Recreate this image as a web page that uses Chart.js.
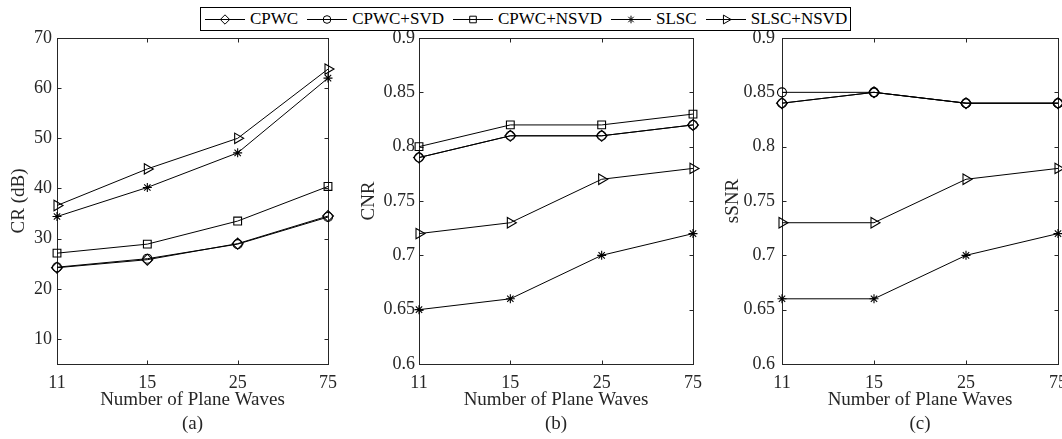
<!DOCTYPE html>
<html>
<head>
<meta charset="utf-8">
<script src="https://cdn.jsdelivr.net/npm/chart.js@4.4.1/dist/chart.umd.min.js"></script>
<style>
html, body { margin: 0; padding: 0; background: #fff; overflow: hidden; }
#fig { position: relative; width: 1062px; height: 439px; overflow: hidden; background: #fff; }
.panel { position: absolute; top: 0; }
#legend {
    position: absolute; left: 200px; top: 7px; width: 645px; height: 22px;
    border: 1px solid #000; background: #fff; z-index: 2;
    display: flex; align-items: center; padding-left: 4px;
    font-family: 'Liberation Serif', 'Times New Roman', serif; font-size: 17px; color: #000;
}
.item { display: flex; align-items: center; margin-right: 9px; white-space: nowrap; }
.item canvas { margin-right: 5px; }
</style>
</head>
<body>
<div id="fig">
    <div id="legend"></div>
    <canvas id="chartA" class="panel"></canvas>
    <canvas id="chartB" class="panel"></canvas>
    <canvas id="chartC" class="panel"></canvas>
</div>
<script>
// dados
var planeWaves = ['11', '15', '25', '75'];
var seriesNames = ['CPWC', 'CPWC+SVD', 'CPWC+NSVD', 'SLSC', 'SLSC+NSVD'];

// (a) CR (dB)
var crCPWC     = [24.2, 25.8, 29.0, 34.5];
var crSVD      = [24.3, 26.0, 28.9, 34.3];
var crNSVD     = [27.1, 28.9, 33.5, 40.4];
var crSLSC     = [34.4, 40.2, 47.1, 62.0];
var crSLSCNSVD = [36.6, 43.9, 50.0, 63.8];

// (b) CNR
var cnrCPWC     = [0.79, 0.81, 0.81, 0.82];
var cnrSVD      = [0.79, 0.81, 0.81, 0.82];
var cnrNSVD     = [0.80, 0.82, 0.82, 0.83];
var cnrSLSC     = [0.65, 0.66, 0.70, 0.72];
var cnrSLSCNSVD = [0.72, 0.73, 0.77, 0.78];

// (c) sSNR (CPWC+NSVD aparece com circulo, por cima do CPWC)
var snrCPWC     = [0.84, 0.85, 0.84, 0.84];
var snrSVD      = [0.85, 0.85, 0.84, 0.84];
var snrNSVD     = [0.84, 0.85, 0.84, 0.84];
var snrSLSC     = [0.66, 0.66, 0.70, 0.72];
var snrSLSCNSVD = [0.73, 0.73, 0.77, 0.78];

var crTicks = [10, 20, 30, 40, 50, 60, 70];
var ratioTicks = [0.6, 0.65, 0.7, 0.75, 0.8, 0.85, 0.9];
var ratioTickLabels = ['0.6', '0.65', '0.7', '0.75', '0.8', '0.85', '0.9'];

var markers = ['rectRot', 'circle', 'rect', 'star', 'triangle'];
var markersC = ['rectRot', 'circle', 'circle', 'star', 'triangle'];
var markerSize = [5.5, 4.5, 5.5, 4.5, 6];
var markerRot = [0, 0, 0, 0, 90];

var serif = "'Liberation Serif', 'Times New Roman', serif";
var axisColor = '#262626';

// legenda
function drawMarker(ctx, style, x, y, r) {
    ctx.beginPath();
    if (style == 'circle') {
        ctx.arc(x, y, r, 0, Math.PI * 2);
    } else if (style == 'rectRot') {
        ctx.moveTo(x, y - r); ctx.lineTo(x + r, y); ctx.lineTo(x, y + r); ctx.lineTo(x - r, y); ctx.closePath();
    } else if (style == 'rect') {
        var s = r * Math.SQRT1_2;
        ctx.rect(x - s, y - s, 2 * s, 2 * s);
    } else if (style == 'star') {
        ctx.moveTo(x - r, y); ctx.lineTo(x + r, y);
        ctx.moveTo(x, y - r); ctx.lineTo(x, y + r);
        var d = r * Math.SQRT1_2;
        ctx.moveTo(x - d, y - d); ctx.lineTo(x + d, y + d);
        ctx.moveTo(x - d, y + d); ctx.lineTo(x + d, y - d);
    } else if (style == 'triangle') {
        ctx.moveTo(x + r, y);
        ctx.lineTo(x - r / 2, y - r * 0.866);
        ctx.lineTo(x - r / 2, y + r * 0.866);
        ctx.closePath();
    }
    ctx.stroke();
}

var legend = document.getElementById('legend');
seriesNames.forEach(function (name, i) {
    var item = document.createElement('div');
    item.className = 'item';
    var c = document.createElement('canvas');
    c.width = 40; c.height = 16;
    var ctx = c.getContext('2d');
    ctx.strokeStyle = '#000'; ctx.lineWidth = 1;
    ctx.beginPath(); ctx.moveTo(0, 8.5); ctx.lineTo(40, 8.5); ctx.stroke();
    drawMarker(ctx, markers[i], 20, 8.5, markerSize[i] * 0.85);
    item.appendChild(c);
    var t = document.createElement('span');
    t.textContent = name;
    item.appendChild(t);
    legend.appendChild(item);
});

// caixa e ticks para dentro, estilo matlab
var boxPlugin = {
    id: 'boxTicks',
    beforeDatasetsDraw: function (chart) {
        var a = chart.chartArea, ctx = chart.ctx;
        var xs = chart.scales.x, ys = chart.scales.y;
        var tl = 4;
        ctx.save();
        ctx.strokeStyle = axisColor;
        ctx.lineWidth = 1;
        var l = Math.round(a.left) + 0.5, r = Math.round(a.right) + 0.5;
        var t = Math.round(a.top) + 0.5, b = Math.round(a.bottom) + 0.5;
        ctx.strokeRect(l, t, r - l, b - t);
        ctx.beginPath();
        xs.ticks.forEach(function (tk, i) {
            var px = Math.round(xs.getPixelForTick(i)) + 0.5;
            ctx.moveTo(px, b); ctx.lineTo(px, b - tl);
            ctx.moveTo(px, t); ctx.lineTo(px, t + tl);
        });
        ys.ticks.forEach(function (tk) {
            var py = Math.round(ys.getPixelForValue(tk.value)) + 0.5;
            ctx.moveTo(l, py); ctx.lineTo(l + tl, py);
            ctx.moveTo(r, py); ctx.lineTo(r - tl, py);
        });
        ctx.stroke();
        ctx.restore();
    }
};

function makePanel(id, left, width, axisW, titlePad, tickPad, values, marks, yMin, yMax, yTicks, yLabels, yTitle, sub) {
    var canvas = document.getElementById(id);
    canvas.width = width;
    canvas.height = 439;
    canvas.style.left = left + 'px';
    canvas.style.width = width + 'px';
    canvas.style.height = '439px';

    var datasets = values.map(function (vals, i) {
        return {
            label: seriesNames[i],
            data: vals,
            borderColor: '#000',
            borderWidth: 1,
            backgroundColor: 'rgba(0,0,0,0)',
            pointStyle: marks[i],
            pointRadius: marks[i] == 'circle' ? 4.5 : markerSize[i],
            pointRotation: markerRot[i],
            pointBorderColor: '#000',
            pointBorderWidth: 1.1,
            pointBackgroundColor: 'rgba(0,0,0,0)',
            tension: 0,
            clip: false
        };
    });

    return new Chart(canvas.getContext('2d'), {
        type: 'line',
        data: { labels: planeWaves, datasets: datasets },
        plugins: [boxPlugin],
        options: {
            responsive: false,
            animation: false,
            events: [],
            layout: { padding: { left: 0, right: width - axisW - 276, top: 38, bottom: 0 } },
            plugins: { legend: { display: false }, tooltip: { enabled: false } },
            scales: {
                x: {
                    type: 'category',
                    offset: false,
                    grid: { display: false, drawTicks: false },
                    border: { display: false },
                    ticks: { color: axisColor, padding: 8, maxRotation: 0, autoSkip: false,
                        font: { family: serif, size: 18 } },
                    title: { display: true, text: ['Number of Plane Waves', sub], color: axisColor,
                        padding: { top: 0, bottom: 3 },
                        font: { family: serif, size: 19, lineHeight: '24px' } },
                    afterFit: function (scale) { scale.height = 75; }
                },
                y: {
                    min: yMin,
                    max: yMax,
                    grid: { display: false, drawTicks: false },
                    border: { display: false },
                    ticks: { color: axisColor, padding: tickPad,
                        font: { family: serif, size: 18 },
                        callback: function (v) {
                            var k = yTicks.indexOf(v);
                            return k >= 0 ? yLabels[k] : '';
                        } },
                    afterBuildTicks: function (scale) {
                        scale.ticks = yTicks.map(function (v) { return { value: v }; });
                    },
                    title: { display: true, text: yTitle, color: axisColor,
                        padding: { top: titlePad, bottom: 0 },
                        font: { family: serif, size: 19, lineHeight: '23px' } },
                    afterFit: function (scale) { scale.width = axisW; }
                }
            }
        }
    });
}

makePanel('chartA', 0, 345, 57, 8, 5,
    [crCPWC, crSVD, crNSVD, crSLSC, crSLSCNSVD], markers,
    5, 70, crTicks, crTicks.map(String), 'CR (dB)', '(a)');

makePanel('chartB', 345, 365, 74, 12.5, 4,
    [cnrCPWC, cnrSVD, cnrNSVD, cnrSLSC, cnrSLSCNSVD], markers,
    0.6, 0.9, ratioTicks, ratioTickLabels, 'CNR', '(b)');

makePanel('chartC', 710, 380, 72, 11.5, 7,
    [snrCPWC, snrSVD, snrNSVD, snrSLSC, snrSLSCNSVD], markersC,
    0.6, 0.9, ratioTicks, ratioTickLabels, 'sSNR', '(c)');
</script>
</body>
</html>
